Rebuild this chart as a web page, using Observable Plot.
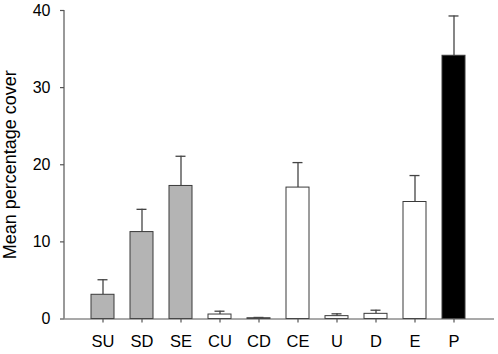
<!DOCTYPE html>
<html>
<head>
<meta charset="utf-8">
<script src="https://cdn.jsdelivr.net/npm/d3@7"></script>
<script src="https://cdn.jsdelivr.net/npm/@observablehq/plot@0.6"></script>
<style>
  html, body { margin: 0; padding: 0; background: #fff; }
  #chart svg { display: block; }
</style>
</head>
<body>
<div id="chart"></div>
<script>
const categories = ["SU", "SD", "SE", "CU", "CD", "CE", "U", "D", "E", "P"];
const means      = [3.14, 11.27, 17.25, 0.58, 0.10, 17.04, 0.37, 0.67, 15.17, 34.13];
const errTops    = [5.09, 14.22, 21.10, 1.01, 0.20, 20.28, 0.67, 1.14, 18.60, 39.29];
const groups     = ["S", "S", "S", "C", "C", "C", "O", "O", "O", "P"];
const groupColors = {S: "#b4b4b4", C: "#ffffff", O: "#ffffff", P: "#000000"};
const yTicks = [0, 10, 20, 30, 40];
const yLabel = "Mean percentage cover";

const data = categories.map((c, i) => ({cat: c, mean: means[i], top: errTops[i], group: groups[i]}));

const axisColor = "#555";
const font = "Liberation Sans, Arial, sans-serif";

const leftLine = (index, scales, values, dims) => {
  const g = d3.create("svg:line")
    .attr("x1", dims.marginLeft).attr("x2", dims.marginLeft)
    .attr("y1", scales.y(0)).attr("y2", scales.y(40))
    .attr("stroke", axisColor).attr("stroke-width", 1.2);
  return g.node();
};

const chart = Plot.plot({
  width: 498,
  height: 354,
  marginLeft: 64,
  marginRight: 4,
  marginTop: 10,
  marginBottom: 35.5,
  style: {fontFamily: font, background: "#fff", fontSize: "16px"},
  x: {domain: categories, range: [75.5, 481.5], padding: 0.41, label: null},
  y: {domain: [0, 40], label: null},
  marks: [
    Plot.ruleX(data, {x: "cat", y1: "mean", y2: "top", stroke: "#444", strokeWidth: 1.3}),
    Plot.tickY(data, {x: "cat", y: "top", stroke: "#444", strokeWidth: 1.3, insetLeft: 6.5, insetRight: 6.5}),
    Plot.barY(data, {x: "cat", y: "mean", fill: d => groupColors[d.group], stroke: "#3a3a3a", strokeWidth: 1}),
    Plot.ruleY([0], {stroke: axisColor, strokeWidth: 1.2}),
    leftLine,
    Plot.axisY({ticks: yTicks, tickSize: 4, tickPadding: 10, tickFormat: d => String(d), fontSize: 16, stroke: axisColor, color: "#000", label: null, strokeWidth: 1.2}),
    Plot.axisX({tickSize: 4, tickPadding: 12, fontSize: 16.5, stroke: axisColor, color: "#000", label: null, strokeWidth: 1.2}),
    Plot.text([yLabel], {frameAnchor: "left", textAnchor: "middle", lineAnchor: "middle", dx: -54.5, rotate: -90, fontSize: 18, fill: "#000", text: d => d})
  ]
});

document.getElementById("chart").appendChild(chart);
</script>
</body>
</html>
